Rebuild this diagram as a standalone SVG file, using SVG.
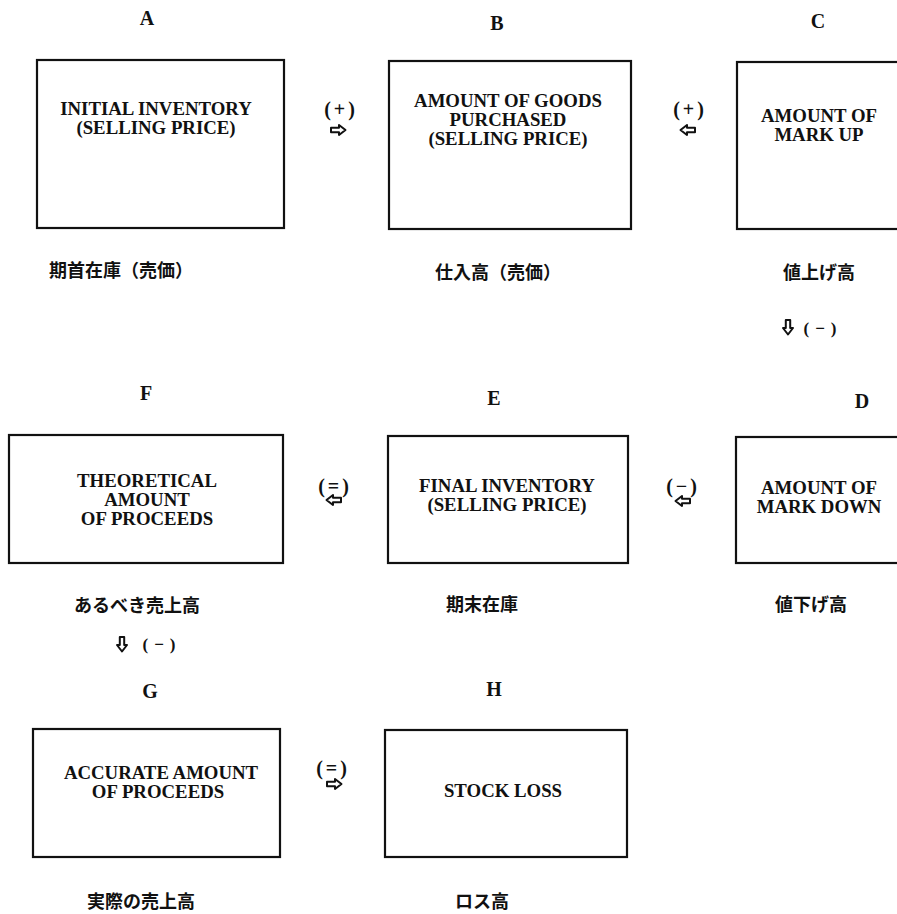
<svg xmlns="http://www.w3.org/2000/svg" width="897" height="914" viewBox="0 0 897 914">
<style>
.box{fill:#fff;stroke:#111;stroke-width:2.2}
.t{font-family:"Liberation Serif","Times New Roman",serif;font-size:18.8px;font-weight:bold;fill:#111;text-anchor:middle}
.lbl{font-family:"Liberation Serif","Times New Roman",serif;font-size:20px;font-weight:bold;fill:#111;text-anchor:middle}
.jp{font-family:"Noto Sans CJK JP",sans-serif;font-size:18px;font-weight:bold;fill:#111;text-anchor:middle}
.sg{font-family:"Liberation Serif","Times New Roman",serif;font-size:20px;font-weight:bold;fill:#111;text-anchor:middle;letter-spacing:3px}
</style>
<defs>
<path id="arr" d="M0,-2.2 H8 V-5 L14.5,0 L8,5 V2.2 H0 Z" fill="#fff" stroke="#111" stroke-width="2" stroke-linejoin="round"/>
</defs>
<rect width="897" height="914" fill="#fff"/>

<g id="node-A">
<text class="lbl" x="147" y="25">A</text>
<rect class="box" x="37" y="60" width="247" height="168"/>
<text class="t" x="156" y="115">INITIAL INVENTORY</text>
<text class="t" x="156" y="134">(SELLING PRICE)</text>
<text class="jp" x="121" y="277">期首在庫（売価）</text>
</g>
<g id="node-B">
<text class="lbl" x="497" y="30">B</text>
<rect class="box" x="389" y="61" width="242" height="168"/>
<text class="t" x="508" y="107">AMOUNT OF GOODS</text>
<text class="t" x="508" y="126">PURCHASED</text>
<text class="t" x="508" y="145">(SELLING PRICE)</text>
<text class="jp" x="498" y="279">仕入高（売価）</text>
</g>
<g id="node-C">
<text class="lbl" x="818" y="28">C</text>
<rect class="box" x="737" y="62" width="180" height="167"/>
<text class="t" x="819" y="122">AMOUNT OF</text>
<text class="t" x="819" y="141">MARK UP</text>
<text class="jp" x="819" y="279">値上げ高</text>
</g>
<g id="node-D">
<text class="lbl" x="862" y="408">D</text>
<rect class="box" x="736" y="437" width="180" height="126"/>
<text class="t" x="819" y="494">AMOUNT OF</text>
<text class="t" x="819" y="513">MARK DOWN</text>
<text class="jp" x="811" y="611">値下げ高</text>
</g>
<g id="node-E">
<text class="lbl" x="494" y="405">E</text>
<rect class="box" x="388" y="436" width="240" height="127"/>
<text class="t" x="507" y="492">FINAL INVENTORY</text>
<text class="t" x="507" y="511">(SELLING PRICE)</text>
<text class="jp" x="482" y="611">期末在庫</text>
</g>
<g id="node-F">
<text class="lbl" x="146" y="400">F</text>
<rect class="box" x="9" y="435" width="274" height="128"/>
<text class="t" x="147" y="487">THEORETICAL</text>
<text class="t" x="147" y="506">AMOUNT</text>
<text class="t" x="147" y="525">OF PROCEEDS</text>
<text class="jp" x="137" y="612">あるべき売上高</text>
</g>
<g id="node-G">
<text class="lbl" x="150" y="698">G</text>
<rect class="box" x="33" y="729" width="247" height="128"/>
<text class="t" x="161" y="779">ACCURATE AMOUNT</text>
<text class="t" x="158" y="798">OF PROCEEDS</text>
<text class="jp" x="141" y="908">実際の売上高</text>
</g>
<g id="node-H">
<text class="lbl" x="494" y="696">H</text>
<rect class="box" x="385" y="730" width="242" height="127"/>
<text class="t" x="503" y="797">STOCK LOSS</text>
<text class="jp" x="482" y="908">ロス高</text>
</g>

<g id="connectors">
<text class="sg" x="341" y="116">(+)</text>
<use href="#arr" transform="translate(331,130)"/>
<text class="sg" x="690" y="116">(+)</text>
<use href="#arr" transform="translate(695,130) scale(-1,1)"/>
<use href="#arr" transform="translate(788,320) rotate(90)"/>
<text class="sg" x="823" y="334" style="font-size:17px;letter-spacing:6px">(−)</text>
<text class="sg" x="683" y="493">(−)</text>
<use href="#arr" transform="translate(690,501) scale(-1,1)"/>
<text class="sg" x="335" y="493">(=)</text>
<use href="#arr" transform="translate(341,500) scale(-1,1)"/>
<use href="#arr" transform="translate(122,637) rotate(90)"/>
<text class="sg" x="162" y="650" style="font-size:17px;letter-spacing:6px">(−)</text>
<text class="sg" x="333" y="775">(=)</text>
<use href="#arr" transform="translate(327,784)"/>
</g>
</svg>
